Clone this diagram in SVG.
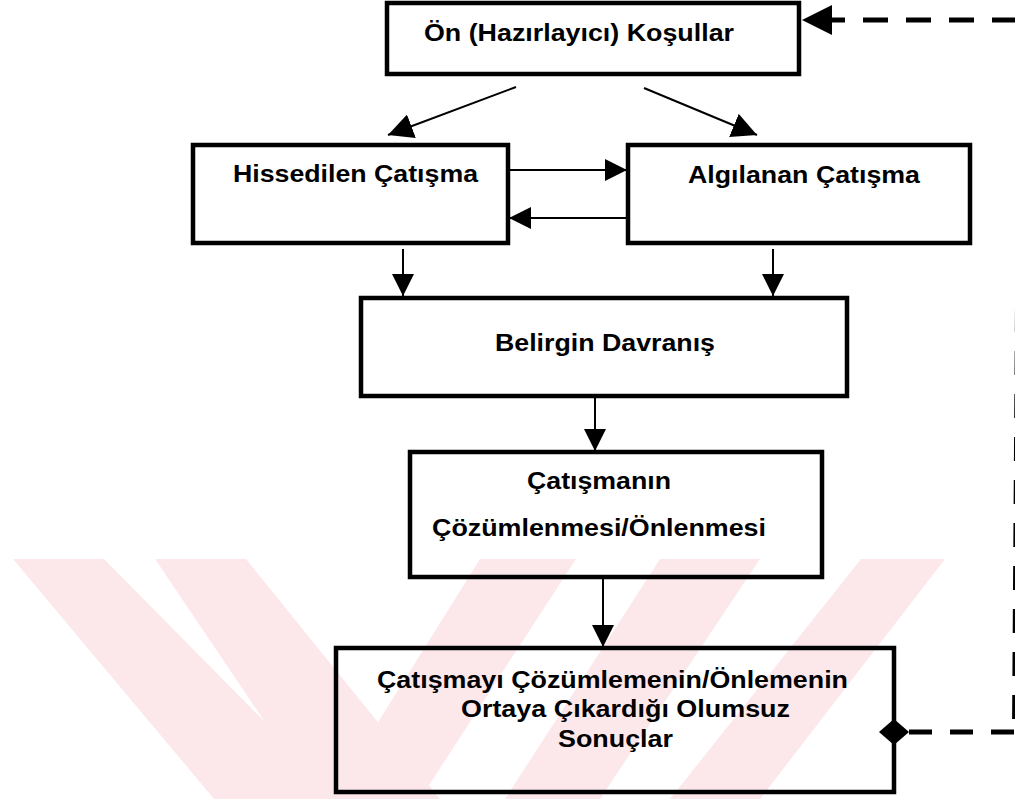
<svg xmlns="http://www.w3.org/2000/svg" width="1015" height="799" viewBox="0 0 1015 799">
  <defs>
    <style>
      .box { fill: none; stroke: #000; stroke-width: 4.5; }
      .link { fill: none; stroke: #000; stroke-width: 2; }
      .dash { fill: none; stroke: #000; stroke-width: 5; }
      .lbl { font-family: "Liberation Sans", Arial, Helvetica, sans-serif; font-weight: bold; font-size: 23px; fill: #000; }
      .wm { fill: #fce8eb; stroke: none; }
    </style>
    <marker id="head" markerUnits="userSpaceOnUse" viewBox="0 0 22 22" markerWidth="22" markerHeight="22" refX="22" refY="11" orient="auto">
      <path d="M0,0 L22,11 L0,22 Z" fill="#000"/>
    </marker>
    <marker id="headBig" markerUnits="userSpaceOnUse" viewBox="0 0 25 25" markerWidth="25" markerHeight="25" refX="25" refY="12.5" orient="auto">
      <path d="M0,0 L25,12.5 L0,25 Z" fill="#000"/>
    </marker>
  </defs>

  <rect width="1015" height="799" fill="#fff"/>

  <!-- background stamp stripes -->
  <g id="stamp">
    <polygon class="wm" points="13,559 104,559 265,722 155,559 246,559 440,799 214,799"/>
    <polygon class="wm" points="480,559 576,559 420,799 330,799"/>
    <polygon class="wm" points="660,559 760,559 600,799 505,799"/>
    <polygon class="wm" points="861,559 945,559 760,799 670,799"/>
  </g>

  <!-- connectors -->
  <g id="connectors">
    <line class="link" x1="516" y1="87" x2="388" y2="135" marker-end="url(#headBig)"/>
    <line class="link" x1="644" y1="88" x2="757" y2="135" marker-end="url(#headBig)"/>
    <line class="link" x1="509" y1="170" x2="627" y2="170" marker-end="url(#head)"/>
    <line class="link" x1="627" y1="218" x2="509" y2="218" marker-end="url(#head)"/>
    <line class="link" x1="403" y1="249" x2="403" y2="296" marker-end="url(#head)"/>
    <line class="link" x1="773" y1="249" x2="773" y2="296" marker-end="url(#head)"/>
    <line class="link" x1="595" y1="396" x2="595" y2="451" marker-end="url(#head)"/>
    <line class="link" x1="603" y1="578" x2="603" y2="647" marker-end="url(#head)"/>
    <!-- feedback loop: bottom box back to the top box, return leg runs along the page edge -->
    <path class="dash" d="M909,732 L1016,732" stroke-dasharray="23 18"/>
    <path class="dash" d="M1019.5,20 L1014.5,732" stroke-dasharray="24 19" stroke-dashoffset="13"/>
    <path class="dash" d="M832,20 L1016,20" stroke-dasharray="25 18" stroke-dashoffset="12"/>
    <polygon points="802,20 832,5 832,35" fill="#000"/>
    <polygon points="879,732 894,719 909,732 894,745" fill="#000"/>
  </g>

  <g id="n-preconditions">
    <rect class="box" x="387" y="3" width="412" height="71"/>
    <text class="lbl" x="424" y="41" textLength="310" lengthAdjust="spacingAndGlyphs">Ön (Hazırlayıcı) Koşullar</text>
  </g>
  <g id="n-felt">
    <rect class="box" x="193" y="145" width="315" height="98"/>
    <text class="lbl" x="233" y="182" textLength="245" lengthAdjust="spacingAndGlyphs">Hissedilen Çatışma</text>
  </g>
  <g id="n-perceived">
    <rect class="box" x="628" y="145" width="342" height="98"/>
    <text class="lbl" x="688" y="183" textLength="232" lengthAdjust="spacingAndGlyphs">Algılanan Çatışma</text>
  </g>
  <g id="n-behaviour">
    <rect class="box" x="361" y="298" width="486" height="98"/>
    <text class="lbl" x="495" y="351" textLength="220" lengthAdjust="spacingAndGlyphs">Belirgin Davranış</text>
  </g>
  <g id="n-resolution">
    <rect class="box" x="410" y="452" width="412" height="125"/>
    <text class="lbl" x="527" y="489" textLength="144" lengthAdjust="spacingAndGlyphs">Çatışmanın</text>
    <text class="lbl" x="432" y="536" textLength="334" lengthAdjust="spacingAndGlyphs">Çözümlenmesi/Önlenmesi</text>
  </g>
  <g id="n-outcomes">
    <rect class="box" x="336" y="648" width="558" height="144"/>
    <text class="lbl" x="377" y="688" textLength="471" lengthAdjust="spacingAndGlyphs">Çatışmayı Çözümlemenin/Önlemenin</text>
    <text class="lbl" x="461" y="717" textLength="329" lengthAdjust="spacingAndGlyphs">Ortaya Çıkardığı Olumsuz</text>
    <text class="lbl" x="558" y="747" textLength="115" lengthAdjust="spacingAndGlyphs">Sonuçlar</text>
  </g>
</svg>
